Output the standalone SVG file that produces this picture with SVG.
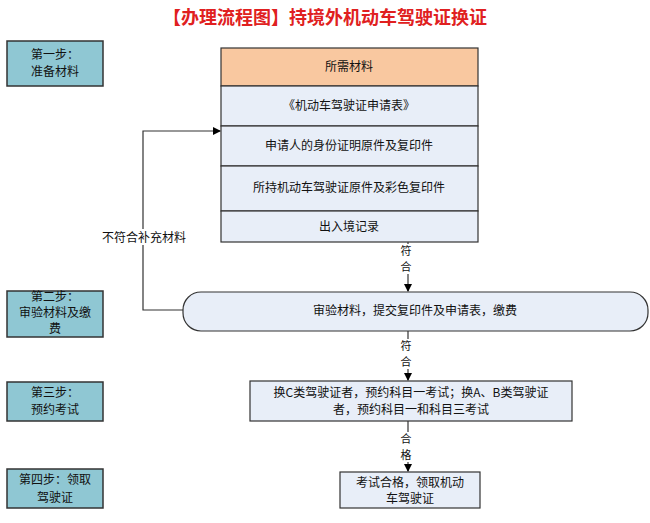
<svg xmlns="http://www.w3.org/2000/svg" width="650" height="523" viewBox="0 0 650 523">
<defs>
<marker id="ar" markerWidth="8" markerHeight="8" refX="7" refY="4" orient="auto" markerUnits="userSpaceOnUse"><path d="M0,0 L8,4 L0,8 z" fill="#000"/></marker>
<style>
text{font-family:"Noto Sans CJK SC","Noto Sans CJK JP",sans-serif;font-size:12px;fill:#111;text-anchor:middle}
.step{fill:#8fc7d3;stroke:#333;stroke-width:1.5}
.box{fill:#e8eef8;stroke:#333;stroke-width:1.2}
.ln{stroke:#333;stroke-width:1.2;fill:none}
.v{font-size:11px}
</style>
</defs>
<rect width="650" height="523" fill="#fff"/>
<text x="325" y="24" style="font-size:18px;font-weight:bold;fill:#e02020">【办理流程图】持境外机动车驾驶证换证</text>
<g id="step1"><rect class="step" x="7" y="41" width="96" height="45"/><text x="55" y="59">第一步：</text><text x="55" y="76">准备材料</text></g>
<g id="step2"><rect class="step" x="7" y="291" width="96" height="46"/><text x="55" y="301">第二步：</text><text x="55" y="317">审验材料及缴</text><text x="55" y="333">费</text></g>
<g id="step3"><rect class="step" x="7" y="382" width="96" height="39"/><text x="55" y="397">第三步：</text><text x="55" y="414">预约考试</text></g>
<g id="step4"><rect class="step" x="7" y="469" width="96" height="39"/><text x="55" y="484">第四步：领取</text><text x="55" y="502">驾驶证</text></g>
<g id="materials">
<rect x="221" y="48" width="257" height="38" fill="#f9c8a0" stroke="#333" stroke-width="1.2"/>
<rect class="box" x="221" y="86" width="257" height="40"/>
<rect class="box" x="221" y="126" width="257" height="40"/>
<rect class="box" x="221" y="166" width="257" height="45"/>
<rect class="box" x="221" y="211" width="257" height="31"/>
<text x="349" y="71">所需材料</text>
<text x="349" y="110">《机动车驾驶证申请表》</text>
<text x="349" y="150">申请人的身份证明原件及复印件</text>
<text x="349" y="192">所持机动车驾驶证原件及彩色复印件</text>
<text x="349" y="231">出入境记录</text>
</g>
<g id="review"><rect class="box" x="183" y="292" width="465" height="39" rx="18"/><text x="415" y="315">审验材料，提交复印件及申请表，缴费</text></g>
<g id="exam"><rect class="box" x="250" y="381" width="322" height="40"/><text x="411" y="397">换C类驾驶证者，预约科目一考试；换A、B类驾驶证</text><text x="411" y="414">者，预约科目一和科目三考试</text></g>
<g id="get"><rect class="box" x="340" y="472" width="140" height="36"/><text x="410" y="487">考试合格，领取机动</text><text x="410" y="503">车驾驶证</text></g>
<g id="connectors">
<path class="ln" d="M408,242 V291" marker-end="url(#ar)"/>
<path class="ln" d="M408,331 V380" marker-end="url(#ar)"/>
<path class="ln" d="M408,421 V471" marker-end="url(#ar)"/>
<path class="ln" d="M183,310 H143 V131 H220" marker-end="url(#ar)"/>
<rect x="400" y="244" width="16" height="30" fill="#fff"/>
<text class="v" x="406" y="255">符</text><text class="v" x="406" y="271">合</text>
<rect x="400" y="339" width="16" height="30" fill="#fff"/>
<text class="v" x="406" y="350">符</text><text class="v" x="406" y="366">合</text>
<rect x="400" y="432" width="16" height="30" fill="#fff"/>
<text class="v" x="406" y="443">合</text><text class="v" x="406" y="459">格</text>
<rect x="96" y="229" width="96" height="16" fill="#fff"/>
<text x="144" y="242">不符合补充材料</text>
</g>
</svg>
